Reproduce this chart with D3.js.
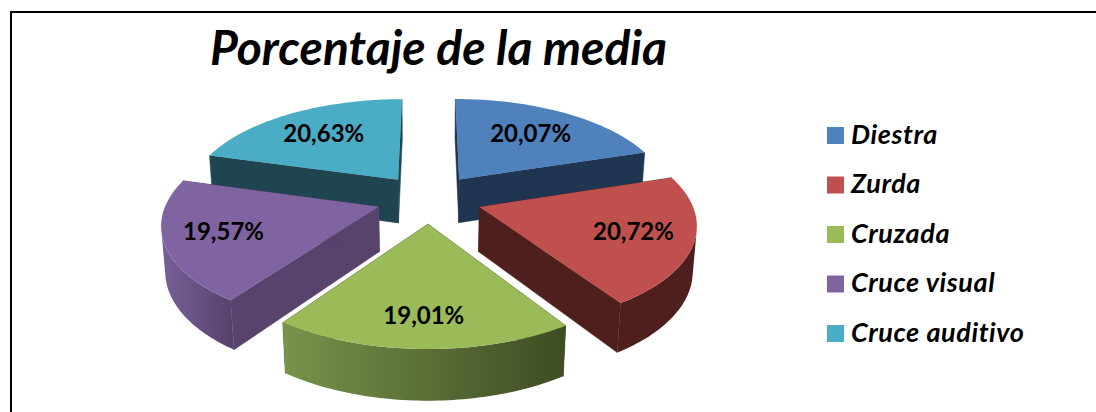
<!DOCTYPE html>
<html>
<head>
<meta charset="utf-8">
<script src="https://cdn.jsdelivr.net/npm/d3@7"></script>
<style>
  html, body { margin: 0; padding: 0; background: #fff; }
  svg { display: block; }
  text { font-family: Lato, "Open Sans", sans-serif; font-weight: bold; fill: #000; }
</style>
</head>
<body>
<div id="chart"></div>
<script>
var titleText = "Porcentaje de la media";
var categories = ["Diestra", "Zurda", "Cruzada", "Cruce visual", "Cruce auditivo"];
var values = [20.07, 20.72, 19.01, 19.57, 20.63];
var valueLabels = ["20,07%", "20,72%", "19,01%", "19,57%", "20,63%"];
var topColors = ["#4f81bd", "#c0504d", "#9bbb59", "#8064a2", "#4bacc6"];
var wallColors = ["#1f3552", "#4f1f1e", "#3e4b23", "#57436c", "#1e4550"];
// outer wall goes from light to dark, left to right on screen
var wallLight = ["#1f3552", "#4f1f1e", "#78934a", "#79609a", "#1e4550"];

var width = 1096, height = 412;

var svg = d3.select("#chart").append("svg")
  .attr("width", width)
  .attr("height", height);

// frame only shows on the top and left in this crop
svg.append("path")
  .attr("d", d3.line()([[11, height], [11, 12], [width, 12]]))
  .attr("fill", "none").attr("stroke", "#000").attr("stroke-width", 2);

/* Perspective view of the pie, radius 1 on the ground plane.
   X goes right, Y goes toward the viewer, z is 0 on top and 1 at the bottom */
var scaleX = d3.scaleLinear().domain([0, 1]).range([429, 640]);
var scaleY = d3.scaleLinear().domain([0, 1]).range([198.6, 296.4]);
var depth = 45, persp = 0.15, persp2 = 0.015, explode = 0.25;

function project(X, Y, z) {
  var w = 1 - persp * Y + persp2 * z;
  var x0 = scaleX(0), y0 = scaleY(0);
  return [x0 + (scaleX(X) - x0) / w, y0 + (scaleY(Y) - y0 + depth * z) / w];
}

// ground plane point of a slice at angle a (clockwise from north), radius r
function ground(d, a, r) {
  var mid = (d.startAngle + d.endAngle) / 2;
  return [explode * Math.sin(mid) + r * Math.sin(a), -explode * Math.cos(mid) - r * Math.cos(a)];
}

var pieData = d3.pie().sort(null)(values);
var lineGen = d3.line();

var defs = svg.append("defs");

// back slices first
var drawOrder = [4, 0, 3, 1, 2];

drawOrder.forEach(function(i) {
  var d = pieData[i];
  var g = svg.append("g").attr("class", "slice");

  // outline of the top face, clockwise on screen
  var steps = d3.range(0, 61).map(function(k) {
    return d.startAngle + (d.endAngle - d.startAngle) * k / 60;
  });
  var outline = [ground(d, 0, 0)].concat(steps.map(function(a) { return ground(d, a, 1); }));

  var topPts = outline.map(function(p) { return project(p[0], p[1], 0); });
  var botPts = outline.map(function(p) { return project(p[0], p[1], 1); });

  var n = topPts.length;
  var walls = [
    [topPts[0], topPts[1], botPts[1], botPts[0]],
    [topPts[n - 1], topPts[0], botPts[0], botPts[n - 1]]
  ];
  walls.forEach(function(q) {
    g.append("path")
      .attr("d", lineGen(q) + "Z")
      .attr("fill", wallColors[i])
      .attr("stroke", wallColors[i])
      .attr("stroke-width", 0.5);
  });

  // outer wall, only the stretch of the arc that faces the viewer
  var front = [];
  for (var k = 1; k < n - 1; k++) {
    var q = [topPts[k], topPts[k + 1], botPts[k + 1], botPts[k]];
    if (d3.polygonArea(q) > 0) front.push(k);
  }
  if (front.length) {
    var a0 = front[0], a1 = front[front.length - 1] + 1;
    var upper = topPts.slice(a0, a1 + 1);
    var lower = botPts.slice(a0, a1 + 1).reverse();
    var gradId = "wall" + i;
    var grad = defs.append("linearGradient")
      .attr("id", gradId)
      .attr("gradientUnits", "userSpaceOnUse")
      .attr("x1", d3.min(upper, function(p) { return p[0]; }))
      .attr("x2", d3.max(upper, function(p) { return p[0]; }))
      .attr("y1", 0).attr("y2", 0);
    grad.append("stop").attr("offset", 0).attr("stop-color", wallLight[i]);
    grad.append("stop").attr("offset", 1).attr("stop-color", wallColors[i]);
    g.append("path")
      .attr("d", lineGen(upper.concat(lower)) + "Z")
      .attr("fill", "url(#" + gradId + ")");
  }

  g.append("path")
    .attr("d", lineGen(topPts) + "Z")
    .attr("fill", topColors[i]);
});

// value labels sit further out toward the front of the pie
pieData.forEach(function(d, i) {
  var mid = (d.startAngle + d.endAngle) / 2;
  var r = 0.96 - 0.06 * Math.cos(mid);
  var p = project(r * Math.sin(mid), -r * Math.cos(mid), 0);
  svg.append("text")
    .attr("x", p[0] - 0.5).attr("y", p[1] - 1.5)
    .attr("text-anchor", "middle")
    .attr("dominant-baseline", "central")
    .attr("font-size", 24)
    .text(valueLabels[i]);
});

svg.append("text")
  .attr("x", 438.5).attr("y", 65)
  .attr("text-anchor", "middle")
  .attr("font-size", 48)
  .attr("font-style", "italic")
  .text(titleText);

var legendY = d3.scalePoint().domain(categories).range([135.5, 333.5]);

var legend = svg.selectAll(".legend")
  .data(categories)
  .enter().append("g")
  .attr("class", "legend")
  .attr("transform", function(d) { return "translate(827," + legendY(d) + ")"; });

legend.append("rect")
  .attr("x", 0).attr("y", -8.5)
  .attr("width", 17).attr("height", 17)
  .attr("fill", function(d, i) { return topColors[i]; });

legend.append("text")
  .attr("x", 24).attr("y", 8)
  .attr("font-size", 27)
  .attr("letter-spacing", 0.6)
  .attr("font-style", "italic")
  .text(function(d) { return d; });
</script>
</body>
</html>
